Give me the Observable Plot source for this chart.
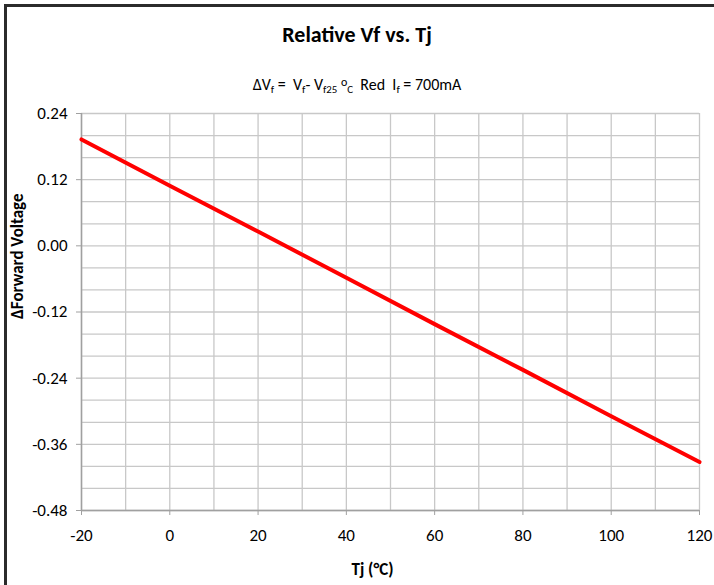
<!DOCTYPE html>
<html><head><meta charset="utf-8">
<script src="https://cdn.jsdelivr.net/npm/d3@7"></script>
<script src="https://cdn.jsdelivr.net/npm/@observablehq/plot@0.6"></script>
<style>
html,body{margin:0;padding:0;background:#fff;overflow:hidden;}
#frame{position:absolute;left:4px;top:4px;width:800px;height:700px;border-left:3px solid #2b2b2b;border-top:3px solid #2b2b2b;box-sizing:border-box;pointer-events:none;}
#wrap{position:absolute;left:0;top:0;width:714px;height:585px;font-family:Carlito,"Liberation Sans Narrow","Arial Narrow",sans-serif;color:#000;}
#head{position:relative;width:714px;height:100px;}
#title{position:absolute;top:21px;left:0;width:714px;text-align:center;font-weight:bold;font-size:22px;}
#subtitle{position:absolute;top:75px;left:0;width:714px;text-align:center;font-size:16px;white-space:pre;}
#subtitle sub{font-size:0.68em;vertical-align:-0.25em;}
#subtitle sup{font-size:0.75em;vertical-align:0.35em;}
svg{display:block;}
</style>
</head><body>
<div id="wrap">
  <div id="head">
    <div id="title">Relative Vf vs. Tj</div>
    <div id="subtitle">ΔV<sub>f</sub> = &nbsp;V<sub>f</sub>- V<sub>f25</sub> <sup>o</sup><sub>C</sub>&nbsp; Red &nbsp;I<sub>f</sub> = 700mA</div>
  </div>
  <div id="chart"></div>
</div>
<div id="frame"></div>
<script>
// Data
const tj = [-20, 0, 20, 40, 60, 80, 100, 120];
const deltaVf = [0.193, 0.109, 0.026, -0.058, -0.142, -0.225, -0.309, -0.392];

// Axes
const xTicks = [-20, 0, 20, 40, 60, 80, 100, 120];
const xGrid = [-20, -10, 0, 10, 20, 30, 40, 50, 60, 70, 80, 90, 100, 110, 120];
const yTicks = [0.24, 0.12, 0, -0.12, -0.24, -0.36, -0.48];
const yGrid = [0.24, 0.20, 0.16, 0.12, 0.08, 0.04, 0, -0.04, -0.08, -0.12, -0.16, -0.20, -0.24, -0.28, -0.32, -0.36, -0.40, -0.44, -0.48];
const xLabel = "Tj (°C)";
const yLabel = "ΔForward Voltage";

const data = tj.map((t, i) => ({t, v: deltaVf[i]}));
const font = 'Carlito,"Liberation Sans Narrow","Arial Narrow",sans-serif';

const chart = Plot.plot({
  width: 714,
  height: 485,
  marginLeft: 81,
  marginRight: 15,
  marginTop: 13,
  marginBottom: 75,
  style: {fontFamily: font, background: "#fff", color: "#000"},
  x: {domain: [-20, 120]},
  y: {domain: [-0.48, 0.24]},
  marks: [
    Plot.gridX(xGrid, {stroke: "#c8c8c8", strokeOpacity: 1, strokeWidth: 1.3}),
    Plot.gridY(yGrid, {stroke: "#c8c8c8", strokeOpacity: 1, strokeWidth: 1.3}),
    Plot.ruleX([-20], {stroke: "#a0a0a0", strokeWidth: 1.5}),
    Plot.ruleY([-0.48], {stroke: "#a0a0a0", strokeWidth: 1.5}),
    Plot.axisX(xTicks, {tickSize: 5, tickPadding: 13, stroke: "#a0a0a0", fill: "#000", fontSize: 17, label: null, tickFormat: d => String(d)}),
    Plot.axisY(yTicks, {tickSize: 5, tickPadding: 9, stroke: "#a0a0a0", fill: "#000", fontSize: 17, label: null, tickFormat: d => d.toFixed(2)}),
    Plot.line(data, {x: "t", y: "v", stroke: "#ff0000", strokeWidth: 4}),
    Plot.text([xLabel], {frameAnchor: "bottom", dx: -18, dy: 64, fontWeight: "bold", fontSize: 17, fill: "#000"}),
    Plot.text([yLabel], {frameAnchor: "left", textAnchor: "start", dx: -64, dy: 7, rotate: -90, fontWeight: "bold", fontSize: 17, fill: "#000"})
  ]
});
document.getElementById("chart").appendChild(chart);
</script>
</body></html>
